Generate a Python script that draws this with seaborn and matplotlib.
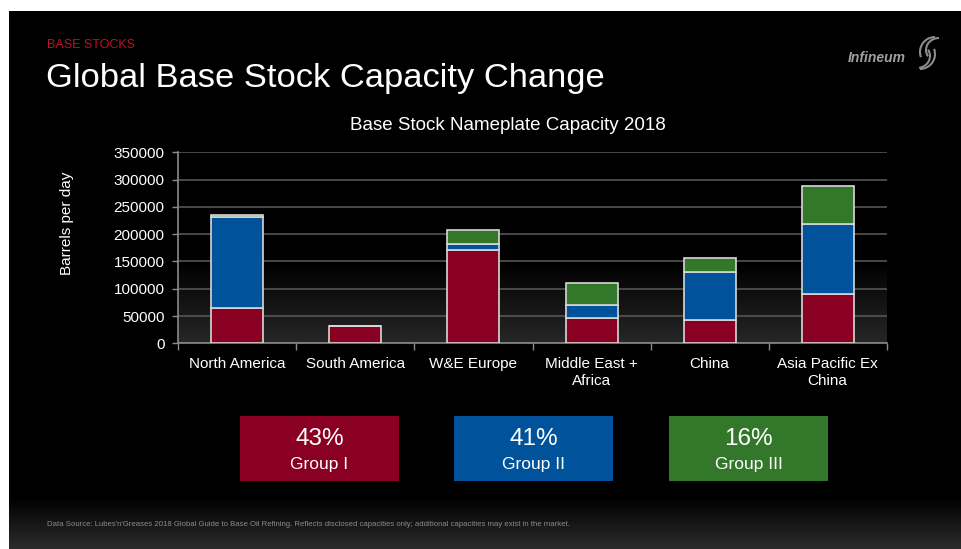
import numpy as np
import pandas as pd
import matplotlib
matplotlib.use("Agg")
import matplotlib.pyplot as plt
from matplotlib.patches import Rectangle, Arc
import seaborn as sns

categories = ["North America", "South America", "W&E Europe", "Middle East +\nAfrica", "China", "Asia Pacific Ex\nChina"]
group1 = [65000, 32000, 171000, 47000, 42000, 90000]
group2 = [166000, 0, 11000, 23000, 89000, 129000]
group3 = [4000, 0, 26000, 41000, 25000, 70000]
yticks = [0, 50000, 100000, 150000, 200000, 250000, 300000, 350000]
shares = ["43%", "41%", "16%"]
groups = ["Group I", "Group II", "Group III"]

RED = "#8A0022"
BLUE = "#00539B"
GREEN = "#33772B"
EDGE = "#d8d8d8"

sns.set_theme(style="dark")
plt.rcParams["font.family"] = ["Liberation Sans", "DejaVu Sans"]

W, H = 961, 549
fig = plt.figure(figsize=(W / 100, H / 100), dpi=100, facecolor="white")

def fx(px):
    return px / W

def fy(py):
    return 1 - py / H

# slide background
bg = fig.add_axes([fx(9), 0, 1 - fx(9), fy(10.5)])
n = 539
grad = np.zeros((n, 1))
rows = np.arange(n)
start = 497 - 10
grad[rows >= start, 0] = (rows[rows >= start] - start) / (n - start)
bg.imshow(grad, cmap=matplotlib.colors.LinearSegmentedColormap.from_list("g", ["#000000", "#2d2d2d"]),
          aspect="auto", extent=[0, 1, 0, 1], vmin=0, vmax=1)
bg.set_axis_off()

# plot area background gradient
axpos = [fx(178.3), fy(343.3), fx(886.7) - fx(178.3), fy(152.3) - fy(343.3)]
pbg = fig.add_axes(axpos)
m = 200
g2 = np.zeros((m, 1))
r = np.arange(m)
s2 = int(m * (262 - 152.3) / (343.3 - 152.3))
g2[r >= s2, 0] = (r[r >= s2] - s2) / (m - s2)
pbg.imshow(g2, cmap=matplotlib.colors.LinearSegmentedColormap.from_list("p", ["#000000", "#272727"]),
           aspect="auto", extent=[0, 1, 0, 1], vmin=0, vmax=1)
pbg.set_axis_off()

ax = fig.add_axes(axpos)
ax.set_facecolor("none")

df = pd.DataFrame({"cat": categories, "g1": group1, "g2": group2, "g3": group3})
b12 = [a + b for a, b in zip(group1, group2)]
kw = dict(width=0.44, edgecolor=EDGE, linewidth=1.2, ax=ax, zorder=3)
sns.barplot(data=df, x="cat", y="g1", color=RED, saturation=1, **kw)
sns.barplot(data=df, x="cat", y="g2", color=BLUE, saturation=1, bottom=group1, **kw)
sns.barplot(data=df, x="cat", y="g3", color=GREEN, saturation=1, bottom=b12, **kw)

ax.set_ylim(0, 350000)
ax.set_xlim(-0.5, 5.5)
ax.set_yticks(yticks)
ax.set_yticklabels([str(v) for v in yticks], color="white", fontsize=11)
ax.set_xticks(range(len(categories)))
ax.set_xticklabels(categories, color="white", fontsize=11, linespacing=1.25)
ax.set_xticks(np.arange(-0.5, 6.0, 1.0), minor=True)
ax.tick_params(axis="x", which="major", length=0, pad=10)
ax.tick_params(axis="x", which="minor", length=5, color="#8a8a8a", width=1, bottom=True)
ax.tick_params(axis="y", length=4, color="#8a8a8a", width=1, pad=6, left=True)
ax.grid(axis="y", color="#555555", linewidth=1.2, zorder=0)
ax.grid(axis="x", visible=False)
for sp in ["top", "right"]:
    ax.spines[sp].set_visible(False)
for sp in ["left", "bottom"]:
    ax.spines[sp].set_visible(True)
    ax.spines[sp].set_color("#8a8a8a")
    ax.spines[sp].set_linewidth(1.2)
ax.set_xlabel("")
ax.set_ylabel("")
fig.text(fx(67.3), fy(223.5), "Barrels per day", color="white", fontsize=11, rotation=90,
         ha="center", va="center")

# titles
fig.text(fx(47), fy(45), "BASE STOCKS", color="#c0102a", fontsize=9, va="center", ha="left")
fig.text(fx(46), fy(79), "Global Base Stock Capacity Change", color="white", fontsize=24.8, va="center", ha="left")
fig.text(fx(508), fy(126), "Base Stock Nameplate Capacity 2018", color="white", fontsize=13.5, va="center", ha="center")
fig.text(fx(877), fy(58), "Infineum", color="#a0a0a0", fontsize=10, style="italic", weight="bold",
         va="center", ha="center")
# simple swirl for the logo
lax = fig.add_axes([fx(905), fy(72), fx(42), fy(32) - fy(72)])
lax.set_xlim(0, 42)
lax.set_ylim(0, 40)
lax.set_axis_off()
for (cx, cy, w, h, t1, t2) in [(30, 20, 30, 30, 90, 200), (34, 22, 26, 24, 90, 210),
                               (15, 18, 30, 30, 270, 20), (12, 16, 26, 24, 280, 30)]:
    lax.add_patch(Arc((cx, cy), w, h, theta1=t1, theta2=t2, color="#8c8c8c", lw=1.5))

fig.text(fx(47), fy(524), "Data Source: Lubes'n'Greases 2018 Global Guide to Base Oil Refining. Reflects disclosed capacities only; additional capacities may exist in the market.",
         color="#8a8a8a", fontsize=5.6, va="center", ha="left")

# legend boxes
for x0, col, sh, gname in zip([240, 454, 669], [RED, BLUE, GREEN], shares, groups):
    fig.patches.append(Rectangle((fx(x0), fy(481)), fx(159), fy(416) - fy(481), transform=fig.transFigure,
                                 facecolor=col, edgecolor="none"))
    cx = fx(x0 + 79.5)
    fig.text(cx, fy(439), sh, color="white", fontsize=17.5, ha="center", va="center")
    fig.text(cx, fy(464), gname, color="white", fontsize=12.5, ha="center", va="center")

fig.savefig("out.png", dpi=100, facecolor=fig.get_facecolor())
